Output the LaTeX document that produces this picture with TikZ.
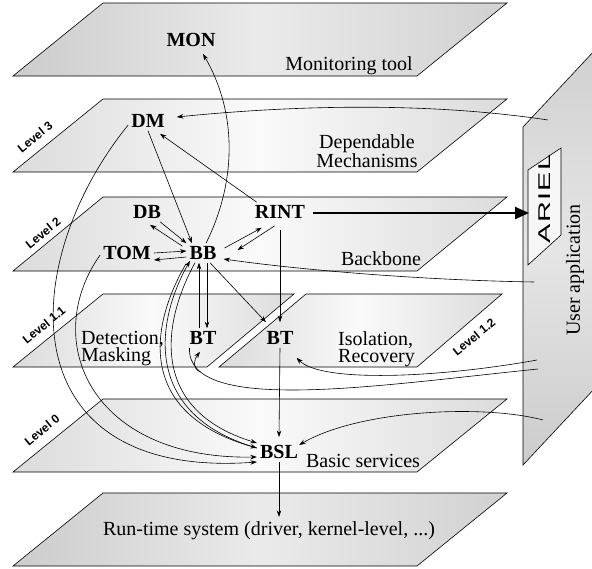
\documentclass[tikz,border=0pt]{standalone}
\usepackage{fontspec}
\usepackage{graphicx}
\setmainfont{Liberation Serif}
\newfontfamily\lvlfont{Liberation Sans}
\usetikzlibrary{arrows.meta}
\begin{document}
\begin{tikzpicture}[x=1pt,y=1pt,
  plane/.style={draw=black,line width=0.6pt},
  lvlplane/.style={plane,left color=gray!28,right color=gray!28,middle color=gray!4},
  darkplane/.style={plane,left color=gray!40,right color=gray!36,middle color=gray!16},
  nbox/.style={font=\fontsize{20}{24}\selectfont\bfseries,inner sep=3pt},
  lbl/.style={font=\fontsize{20}{17.5}\selectfont,inner sep=0pt},
  lvl/.style={font=\lvlfont\bfseries\fontsize{12}{14}\selectfont,rotate=39,inner sep=0pt},
  con/.style={line width=0.6pt,-{Stealth[length=6.5pt,width=4.5pt]}},
  pline/.style={line width=0.6pt},
]
\useasboundingbox (0,0) rectangle (592,-568);
\clip (0,0) rectangle (592,-568);

% planes
\shade[darkplane] (13,-76) -- (417,-76) -- (507,-3) -- (103,-3) -- cycle;
\shade[lvlplane] (13,-172) -- (417,-172) -- (507,-99) -- (103,-99) -- cycle;
\shade[lvlplane] (13,-271) -- (417,-271) -- (507,-197) -- (103,-197) -- cycle;
\shade[lvlplane] (13,-367) -- (207,-367) -- (294,-294) -- (103,-294) -- cycle;
\shade[lvlplane] (219,-367) -- (417,-367) -- (502,-294) -- (306,-294) -- cycle;
\shade[lvlplane] (13,-472) -- (417,-472) -- (507,-399) -- (103,-399) -- cycle;
\shade[darkplane] (13,-566) -- (417,-566) -- (507,-493) -- (103,-493) -- cycle;

% user application panel
\shade[plane,top color=gray!38,bottom color=gray!40,middle color=gray!20]
  (523,-127) -- (523,-465) -- (610,-372) -- (610,-34) -- cycle;
\filldraw[pline,fill=gray!6] (528,-170) -- (561,-148) -- (561,-235) -- (528,-265) -- cycle;
\node[rotate=90,font=\lvlfont\fontsize{17}{17}\selectfont,inner sep=0pt] (ariel) at (545,-199)
  {\scalebox{1.7}[1]{\addfontfeature{LetterSpace=5}ARIEL}};
\coordinate (arielL) at (529,-213);
\node[lbl,rotate=90] (ua) at (575,-270) {User application};

% level labels
\node[lvl] (l3) at (35,-137) {Level 3};
\node[lvl] (l2) at (43,-233) {Level 2};
\node[lvl] (l11) at (44,-325) {Level 1.1};
\node[lvl] (l0) at (42,-430) {Level 0};
\node[lvl] (l12) at (474,-337) {Level 1.2};

% plane texts
\node[lbl,anchor=base] (monl) at (349,-70) {Monitoring tool};
\node[lbl,align=center] (dml) at (367,-151) {Dependable\\Mechanisms};
\node[lbl,anchor=base] (bbl) at (381,-265) {Backbone};
\node[lbl,align=left,anchor=north west] (detl) at (81,-331) {Detection,\\Masking};
\node[lbl,align=left,anchor=north west] (isol) at (338,-331) {Isolation,\\Recovery};
\node[lbl,anchor=base] (bsll) at (363,-467) {Basic services};
\node[lbl,anchor=base] (rtl) at (269,-535) {Run-time system (driver, kernel-level, ...)};

% component nodes
\node[nbox] (MON) at (191,-40) {MON};
\node[nbox] (DM) at (148,-121) {DM};
\node[nbox] (DB) at (147,-212) {DB};
\node[nbox] (RINT) at (280,-212) {RINT};
\node[nbox] (TOM) at (127,-253) {TOM};
\node[nbox] (BB) at (203,-253) {BB};
\node[nbox] (BTa) at (203,-338) {BT};
\node[nbox] (BTb) at (280,-338) {BT};
\node[nbox] (BSL) at (279,-452) {BSL};

% free ends on the user application panel
\coordinate (uDM) at (548,-120);
\coordinate (uBB) at (534,-282);
\coordinate (uIso) at (537,-360);
\coordinate (uBT) at (538,-369);
\coordinate (uBSL) at (543,-420);

% connectors
\draw[con] ([xshift=3pt]BB.north) .. controls +(30,60) and +(35,-60) .. ([shift={(12pt,-4pt)}]MON.south);
\draw[con] (uDM) .. controls +(-120,18) and +(120,12) .. ([shift={(9pt,4pt)}]DM.east);
\draw[con] (DM.south) -- ([xshift=-11pt]BB.north);
\draw[con] ([xshift=5pt]RINT.north west) -- ([shift={(12pt,-3pt)}]DM.south);
\draw[con] ([yshift=-4pt]DM.west) .. controls +(-113,-140) and +(-247,-18) .. ([yshift=-10pt]BSL.west);
\draw[con] ([yshift=-2pt]TOM.west) .. controls +(-60,-85) and +(-167,-3) .. ([yshift=-5pt]BSL.west);

\draw[con] ([xshift=-8pt]BB.south) .. controls +(-33,-60) and +(-108,33) .. ([yshift=9pt]BSL.west);
\draw[con] ([yshift=4pt]BSL.west) .. controls +(-114,33) and +(-35,-62) .. ([shift={(-13pt,2pt)}]BB.south);
\draw[con] ([shift={(-17pt,-1pt)}]BB.south) .. controls +(-37,-64) and +(-120,34) .. ([yshift=4pt]BSL.west);

\draw[con] ([xshift=-4pt]BTa.north) -- ([xshift=-4pt]BB.south);
\draw[con] ([xshift=4pt]BB.south) -- ([xshift=4pt]BTa.north);
\draw[con] ([xshift=7pt]BB.south) -- ([shift={(-14pt,6pt)}]BTb.north);
\draw[con] ([yshift=-8pt]RINT.south) -- ([yshift=6pt]BTb.north);
\draw[con] (BTb.south) -- ([yshift=5pt]BSL.north);
\draw[con] (BSL.south) -- ([shift={(10pt,4pt)}]rtl.north);

\draw[con] ([xshift=-4pt]DB.south east) -- (BB.north west);
\draw[con] ([shift={(-4pt,-3pt)}]BB.north west) -- ([shift={(3pt,-3pt)}]DB.south);
\draw[con] (TOM.east) -- ([yshift=2pt]BB.west);
\draw[con] ([yshift=-4pt]BB.west) -- ([yshift=-7pt]TOM.east);
\draw[con] ([shift={(5pt,5pt)}]BB.east) -- ([shift={(10pt,-6pt)}]RINT.south west);
\draw[con] ([shift={(23pt,-4pt)}]RINT.south west) -- ([shift={(18pt,3pt)}]BB.east);

\draw[con] (uBB) .. controls +(-120,2) and +(70,-10) .. ([shift={(4pt,-6pt)}]BB.east);
\draw[line width=2.2pt,-{Triangle[length=14pt,width=12pt]}] ([shift={(5pt,-1pt)}]RINT.east) -- (arielL);

\draw[con] (uIso) .. controls +(-100,-18) and +(25,-25) .. ([yshift=-10pt]BTb.south east);
\draw[pline] ([xshift=3pt]BTa.south west) .. controls +(-3,-68) and +(-158,-16) .. (uBT) coordinate[pos=0.15] (hk);
\draw[con] (hk) .. controls +(-9,4) and +(-6,-8) .. ([shift={(-3pt,-4pt)}]BTa.south);
\draw[con] (uBSL) .. controls +(-60,16) and +(60,35) .. ([shift={(-2pt,7pt)}]BSL.east);
\end{tikzpicture}
\end{document}
